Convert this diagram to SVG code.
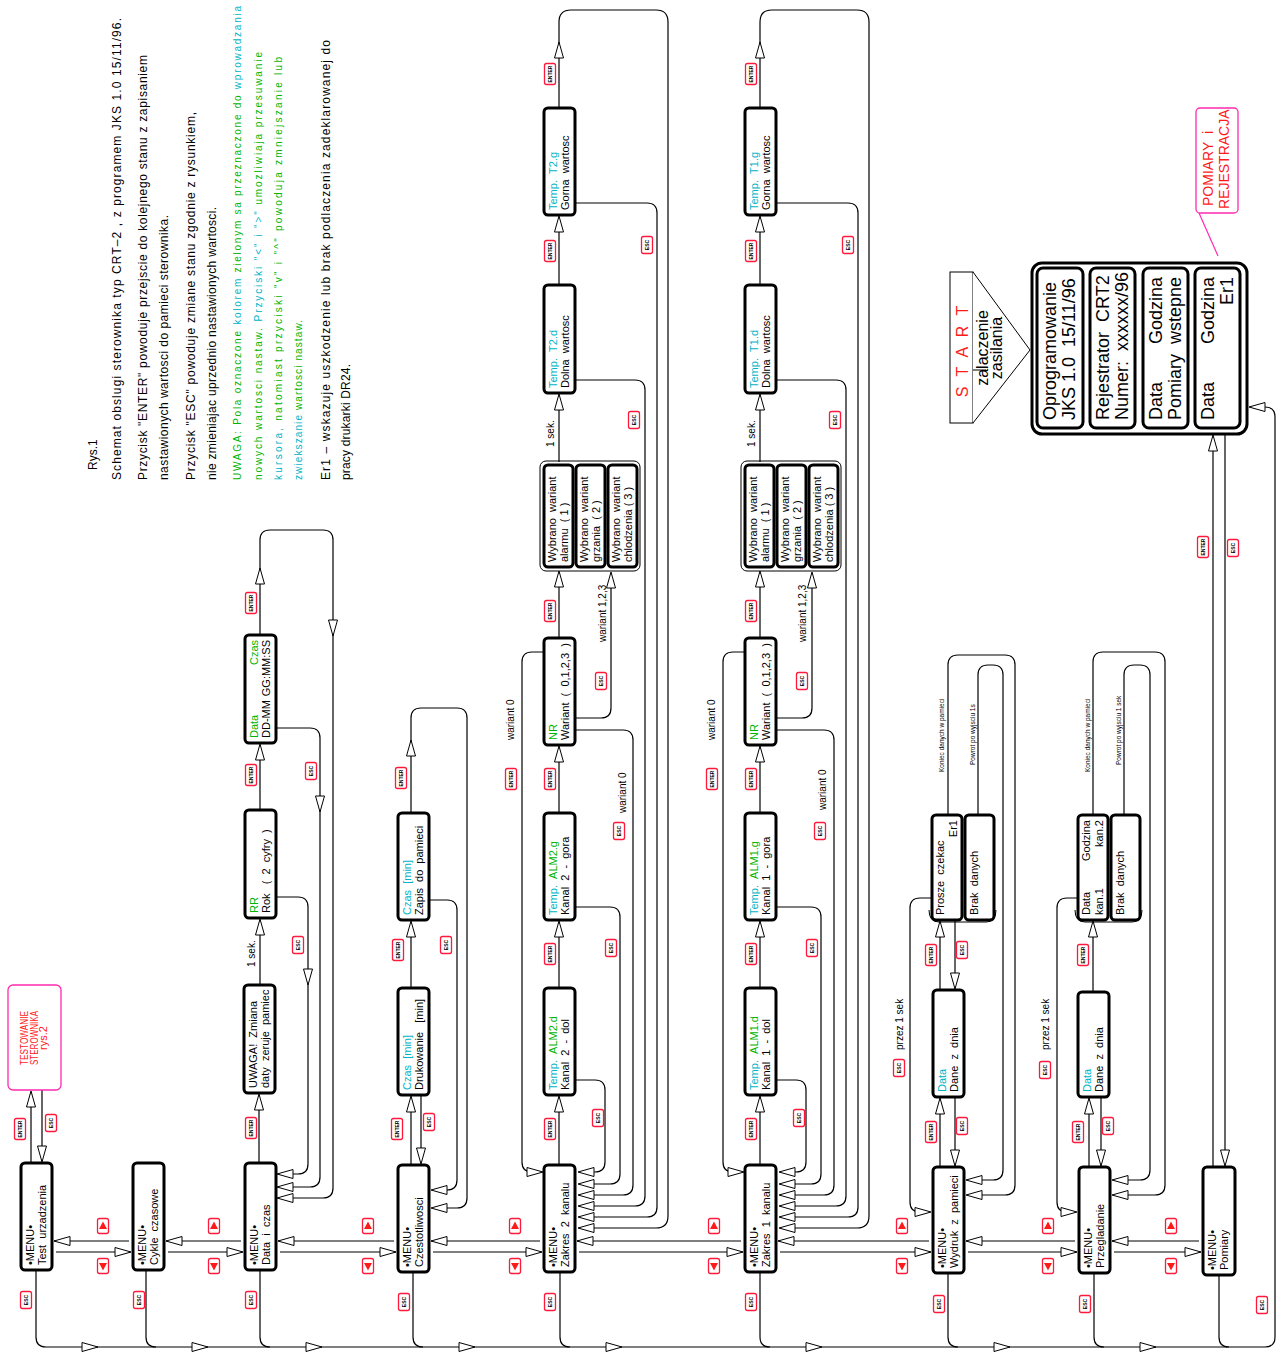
<svg xmlns="http://www.w3.org/2000/svg" xmlns:xlink="http://www.w3.org/1999/xlink" width="1287" height="1353" viewBox="0 0 1287 1353">
<style>
.n{fill:#fff;stroke:#000;stroke-width:3}
.nt{fill:none;stroke:#000;stroke-width:1}
.pk{fill:#fff;stroke:#ff2ab0;stroke-width:1.3}
.c{fill:none;stroke:#000;stroke-width:1.2}
.ah{fill:#fff;stroke:#000;stroke-width:1}
.lb{fill:#fff;stroke:#ff1a3c;stroke-width:1.3}
.lt{font-family:'Liberation Sans',Arial,sans-serif;font-size:5px;font-weight:bold;text-anchor:middle;fill:#000}
.tri{fill:#ff1a1a}
.t{font-family:'Liberation Sans',Arial,sans-serif;font-size:11px;fill:#000}
.s{font-family:'Liberation Sans',Arial,sans-serif;font-size:10px;fill:#000}
.xs{font-family:'Liberation Sans',Arial,sans-serif;font-size:6.5px;fill:#000}
.ins{font-family:'Liberation Sans',Arial,sans-serif;font-size:12px;fill:#000}
.big{font-family:'Liberation Sans',Arial,sans-serif;font-size:18px;fill:#000}
.e{text-anchor:end}
.m{text-anchor:middle}
.gr{fill:#00b400}
.cy{fill:#00b4c8}
.red{fill:#ff1a1a}
</style>
<defs>
<path id="ah" class="ah" d="M0,0L-16,-4.5L-16,4.5Z"/>
</defs>

<!-- instructions -->
<g id="notes">
<text class="ins" transform="translate(97,470) rotate(-90)">Rys.1</text>
<text class="ins" transform="translate(121,480) rotate(-90)" textLength="462" lengthAdjust="spacing">Schemat obslugi sterownika typ CRT–2 , z programem JKS 1.0 15/11/96.</text>
<text class="ins" transform="translate(147,480) rotate(-90)" textLength="425" lengthAdjust="spacing">Przycisk "ENTER" powoduje przejscie do kolejnego stanu z zapisaniem</text>
<text class="ins" transform="translate(168,480) rotate(-90)" textLength="265" lengthAdjust="spacing">nastawionych wartosci do pamieci sterownika.</text>
<text class="ins" transform="translate(195,480) rotate(-90)" textLength="368" lengthAdjust="spacing">Przycisk "ESC" powoduje zmiane stanu zgodnie z rysunkiem,</text>
<text class="ins" transform="translate(216,480) rotate(-90)" textLength="273" lengthAdjust="spacing">nie zmieniajac uprzednio nastawionych wartosci.</text>
<text class="s" transform="translate(241,480) rotate(-90)" textLength="474" lengthAdjust="spacing"><tspan class="gr">UWAGA: Pola oznaczone </tspan><tspan class="cy">kolorem</tspan><tspan class="gr"> zielonym sa przeznaczone do </tspan><tspan class="cy">wprowadzania</tspan></text>
<text class="s" transform="translate(262,480) rotate(-90)" textLength="428" lengthAdjust="spacing"><tspan class="gr">nowych wartosci nastaw.   </tspan><tspan class="cy">Przyciski "&lt;" i "&gt;"</tspan><tspan class="gr"> umozliwiaja przesuwanie</tspan></text>
<text class="s" transform="translate(282,480) rotate(-90)" textLength="423" lengthAdjust="spacing"><tspan class="cy">kursora,</tspan><tspan class="gr"> natomiast przyciski "v" i "^" powoduja zmniejszanie lub</tspan></text>
<text class="s" transform="translate(302,480) rotate(-90)" textLength="160" lengthAdjust="spacing"><tspan class="cy">zwiekszanie</tspan><tspan class="gr"> wartosci nastaw.</tspan></text>
<text class="ins" transform="translate(330,480) rotate(-90)" textLength="440" lengthAdjust="spacing">Er1 –   wskazuje uszkodzenie lub brak podlaczenia zadeklarowanej do</text>
<text class="ins" transform="translate(350,480) rotate(-90)" textLength="116" lengthAdjust="spacing">pracy drukarki DR24.</text>
</g>

<!-- connectors -->
<g id="connectors" class="c">
<path d="M31,1163V1092"/><path d="M42,1090V1161"/>
<path d="M129,1241H54"/><path d="M56,1252H131"/>
<path d="M241,1241H166"/><path d="M168,1252H243"/>
<path d="M394,1241H278"/><path d="M280,1252H396"/>
<path d="M540,1241H431"/><path d="M433,1252H542"/>
<path d="M741,1241H577"/><path d="M579,1252H743"/>
<path d="M929,1241H778"/><path d="M780,1252H931"/>
<path d="M1075,1241H966"/><path d="M968,1252H1077"/>
<path d="M1199,1241H1112"/><path d="M1114,1252H1201"/>
<path d="M36,1270V1337q0,10 10,10H1265q10,0 10,-10V417q0,-10 -10,-10H1250"/>
<path d="M146,1270V1337q0,10 10,10"/>
<path d="M260,1270V1337q0,10 10,10"/>
<path d="M413,1272V1337q0,10 10,10"/>
<path d="M560,1272V1337q0,10 10,10"/>
<path d="M760,1272V1337q0,10 10,10"/>
<path d="M948,1273V1337q0,10 10,10"/>
<path d="M1094,1273V1337q0,10 10,10"/>
<path d="M1219,1275V1337q0,10 10,10"/>
<path d="M259,1163V1095"/>
<path d="M260,985V920"/>
<path d="M260,810V745"/>
<path d="M260,635V540q0,-10 10,-10H323q10,0 10,10V1188q0,10 -10,10H279"/>
<path d="M275,897H298q10,0 10,10V1164q0,10 -10,10H279"/>
<path d="M275,728H310q10,0 10,10V1177q0,10 -10,10H279"/>
<path d="M411,1165V1097"/>
<path d="M421,1095V1163"/>
<path d="M411,988V922"/>
<path d="M411,813V718q0,-10 10,-10H457q10,0 10,10V1198q0,10 -10,10H433"/>
<path d="M429,900H447q10,0 10,10V1180q0,10 -10,10H433"/>
<path d="M559,1165V1097"/><path d="M559,988V922"/><path d="M559,813V747"/><path d="M559,638V572"/><path d="M559,462V395"/><path d="M559,285V217"/>
<path d="M559,108V22q0,-12 12,-12H656q12,0 12,12V1216q0,12 -12,12H580"/>
<path d="M575,203H647q10,0 10,10V1207q0,10 -10,10H580"/>
<path d="M575,380H635q10,0 10,10V1196q0,10 -10,10H580"/>
<path d="M575,730H623q10,0 10,10V1185q0,10 -10,10H580"/>
<path d="M575,718H601q10,0 10,-10V573"/>
<path d="M575,907H610q10,0 10,10V1174q0,10 -10,10H580"/>
<path d="M575,1080H595q10,0 10,10V1162q0,10 -10,10H580"/>
<path d="M544,652H532q-10,0 -10,10V1162q0,10 10,10H541"/>
<path d="M760,1165V1097"/><path d="M760,988V922"/><path d="M760,813V747"/><path d="M760,638V572"/><path d="M760,462V395"/><path d="M760,285V217"/>
<path d="M760,108V22q0,-12 12,-12H857q12,0 12,12V1216q0,12 -12,12H781"/>
<path d="M776,203H848q10,0 10,10V1207q0,10 -10,10H781"/>
<path d="M776,380H836q10,0 10,10V1196q0,10 -10,10H781"/>
<path d="M776,730H824q10,0 10,10V1185q0,10 -10,10H781"/>
<path d="M776,718H802q10,0 10,-10V573"/>
<path d="M776,907H811q10,0 10,10V1174q0,10 -10,10H781"/>
<path d="M776,1080H796q10,0 10,10V1162q0,10 -10,10H781"/>
<path d="M745,652H733q-10,0 -10,10V1162q0,10 10,10H742"/>
<path d="M940,1167V1099"/><path d="M955,1097V1165"/>
<path d="M940,990V922"/><path d="M955,920V988"/>
<path d="M932,898H920q-10,0 -10,10V1202q0,10 10,10H929"/>
<path d="M948,815V665q0,-10 10,-10H1005q10,0 10,10V1185q0,10 -10,10H968"/>
<path d="M978,815V675q0,-10 10,-10H993q10,0 10,10V1170q0,10 -10,10H968"/>
<path d="M1089,1167V1099"/><path d="M1101,1097V1165"/>
<path d="M1093,992V922"/>
<path d="M1078,898H1067q-10,0 -10,10V1202q0,10 10,10H1075"/>
<path d="M1093,815V662q0,-10 10,-10H1155q10,0 10,10V1185q0,10 -10,10H1114"/>
<path d="M1124,815V675q0,-10 10,-10H1140q10,0 10,10V1170q0,10 -10,10H1114"/>
<path d="M1213,1167V437"/><path d="M1225,434V1164"/>
<path d="M1199,213L1218,256" style="stroke:#ff2ab0"/>

<use href="#ah" transform="translate(31,1091) rotate(-90)"/>
<use href="#ah" transform="translate(42,1162) rotate(90)"/>
<use href="#ah" transform="translate(54,1241) rotate(180)"/><use href="#ah" transform="translate(131,1252)"/>
<use href="#ah" transform="translate(166,1241) rotate(180)"/><use href="#ah" transform="translate(243,1252)"/>
<use href="#ah" transform="translate(278,1241) rotate(180)"/><use href="#ah" transform="translate(396,1252)"/>
<use href="#ah" transform="translate(431,1241) rotate(180)"/><use href="#ah" transform="translate(542,1252)"/>
<use href="#ah" transform="translate(577,1241) rotate(180)"/><use href="#ah" transform="translate(743,1252)"/>
<use href="#ah" transform="translate(778,1241) rotate(180)"/><use href="#ah" transform="translate(931,1252)"/>
<use href="#ah" transform="translate(966,1241) rotate(180)"/><use href="#ah" transform="translate(1077,1252)"/>
<use href="#ah" transform="translate(1112,1241) rotate(180)"/><use href="#ah" transform="translate(1201,1252)"/>
<use href="#ah" transform="translate(98,1347)"/><use href="#ah" transform="translate(208,1347)"/><use href="#ah" transform="translate(322,1347)"/><use href="#ah" transform="translate(475,1347)"/><use href="#ah" transform="translate(622,1347)"/><use href="#ah" transform="translate(822,1347)"/><use href="#ah" transform="translate(1010,1347)"/><use href="#ah" transform="translate(1156,1347)"/>
<use href="#ah" transform="translate(1249,407) rotate(180)"/>
<use href="#ah" transform="translate(259,1094) rotate(-90)"/>
<use href="#ah" transform="translate(260,919) rotate(-90)"/>
<use href="#ah" transform="translate(260,744) rotate(-90)"/>
<use href="#ah" transform="translate(260,568) rotate(-90)"/>
<use href="#ah" transform="translate(333,636) rotate(90)"/>
<use href="#ah" transform="translate(308,985) rotate(90)"/>
<use href="#ah" transform="translate(320,812) rotate(90)"/>
<use href="#ah" transform="translate(277,1174) rotate(180)"/><use href="#ah" transform="translate(277,1187) rotate(180)"/><use href="#ah" transform="translate(277,1198) rotate(180)"/>
<use href="#ah" transform="translate(411,1096) rotate(-90)"/>
<use href="#ah" transform="translate(421,1164) rotate(90)"/>
<use href="#ah" transform="translate(411,921) rotate(-90)"/>
<use href="#ah" transform="translate(411,740) rotate(-90)"/>
<use href="#ah" transform="translate(431,1190) rotate(180)"/><use href="#ah" transform="translate(431,1208) rotate(180)"/>
<use href="#ah" transform="translate(559,1096) rotate(-90)"/><use href="#ah" transform="translate(559,921) rotate(-90)"/><use href="#ah" transform="translate(559,746) rotate(-90)"/><use href="#ah" transform="translate(559,571) rotate(-90)"/><use href="#ah" transform="translate(559,394) rotate(-90)"/><use href="#ah" transform="translate(559,216) rotate(-90)"/><use href="#ah" transform="translate(559,42) rotate(-90)"/>
<use href="#ah" transform="translate(611,572) rotate(-90)"/>
<use href="#ah" transform="translate(578,1172) rotate(180)"/><use href="#ah" transform="translate(578,1184) rotate(180)"/><use href="#ah" transform="translate(578,1195) rotate(180)"/><use href="#ah" transform="translate(578,1206) rotate(180)"/><use href="#ah" transform="translate(578,1217) rotate(180)"/><use href="#ah" transform="translate(578,1228) rotate(180)"/>
<use href="#ah" transform="translate(543,1172)"/>
<use href="#ah" transform="translate(760,1096) rotate(-90)"/><use href="#ah" transform="translate(760,921) rotate(-90)"/><use href="#ah" transform="translate(760,746) rotate(-90)"/><use href="#ah" transform="translate(760,571) rotate(-90)"/><use href="#ah" transform="translate(760,394) rotate(-90)"/><use href="#ah" transform="translate(760,216) rotate(-90)"/><use href="#ah" transform="translate(760,42) rotate(-90)"/>
<use href="#ah" transform="translate(812,572) rotate(-90)"/>
<use href="#ah" transform="translate(779,1172) rotate(180)"/><use href="#ah" transform="translate(779,1184) rotate(180)"/><use href="#ah" transform="translate(779,1195) rotate(180)"/><use href="#ah" transform="translate(779,1206) rotate(180)"/><use href="#ah" transform="translate(779,1217) rotate(180)"/><use href="#ah" transform="translate(779,1228) rotate(180)"/>
<use href="#ah" transform="translate(744,1172)"/>
<use href="#ah" transform="translate(940,1098) rotate(-90)"/><use href="#ah" transform="translate(955,1166) rotate(90)"/>
<use href="#ah" transform="translate(940,921) rotate(-90)"/><use href="#ah" transform="translate(955,989) rotate(90)"/>
<use href="#ah" transform="translate(931,1212)"/>
<use href="#ah" transform="translate(966,1180) rotate(180)"/><use href="#ah" transform="translate(966,1195) rotate(180)"/>
<use href="#ah" transform="translate(1089,1098) rotate(-90)"/><use href="#ah" transform="translate(1101,1166) rotate(90)"/>
<use href="#ah" transform="translate(1093,921) rotate(-90)"/>
<use href="#ah" transform="translate(1077,1212)"/>
<use href="#ah" transform="translate(1112,1180) rotate(180)"/><use href="#ah" transform="translate(1112,1195) rotate(180)"/>
<use href="#ah" transform="translate(1213,435) rotate(-90)"/><use href="#ah" transform="translate(1225,1166) rotate(90)"/>
</g>

<g id="labels">
<g transform="translate(20,1129)"><rect class="lb" x="-5.5" y="-10.5" width="11" height="21" rx="2"/><text class="lt" transform="rotate(-90)" y="2">ENTER</text></g>
<g transform="translate(251,1128)"><rect class="lb" x="-5.5" y="-10.5" width="11" height="21" rx="2"/><text class="lt" transform="rotate(-90)" y="2">ENTER</text></g>
<g transform="translate(251,775)"><rect class="lb" x="-5.5" y="-10.5" width="11" height="21" rx="2"/><text class="lt" transform="rotate(-90)" y="2">ENTER</text></g>
<g transform="translate(251,603)"><rect class="lb" x="-5.5" y="-10.5" width="11" height="21" rx="2"/><text class="lt" transform="rotate(-90)" y="2">ENTER</text></g>
<g transform="translate(397,1129)"><rect class="lb" x="-5.5" y="-10.5" width="11" height="21" rx="2"/><text class="lt" transform="rotate(-90)" y="2">ENTER</text></g>
<g transform="translate(398,950)"><rect class="lb" x="-5.5" y="-10.5" width="11" height="21" rx="2"/><text class="lt" transform="rotate(-90)" y="2">ENTER</text></g>
<g transform="translate(401,778)"><rect class="lb" x="-5.5" y="-10.5" width="11" height="21" rx="2"/><text class="lt" transform="rotate(-90)" y="2">ENTER</text></g>
<g transform="translate(550,1129)"><rect class="lb" x="-5.5" y="-10.5" width="11" height="21" rx="2"/><text class="lt" transform="rotate(-90)" y="2">ENTER</text></g>
<g transform="translate(550,954)"><rect class="lb" x="-5.5" y="-10.5" width="11" height="21" rx="2"/><text class="lt" transform="rotate(-90)" y="2">ENTER</text></g>
<g transform="translate(550,779)"><rect class="lb" x="-5.5" y="-10.5" width="11" height="21" rx="2"/><text class="lt" transform="rotate(-90)" y="2">ENTER</text></g>
<g transform="translate(550,611)"><rect class="lb" x="-5.5" y="-10.5" width="11" height="21" rx="2"/><text class="lt" transform="rotate(-90)" y="2">ENTER</text></g>
<g transform="translate(550,251)"><rect class="lb" x="-5.5" y="-10.5" width="11" height="21" rx="2"/><text class="lt" transform="rotate(-90)" y="2">ENTER</text></g>
<g transform="translate(550,74)"><rect class="lb" x="-5.5" y="-10.5" width="11" height="21" rx="2"/><text class="lt" transform="rotate(-90)" y="2">ENTER</text></g>
<g transform="translate(511,779)"><rect class="lb" x="-5.5" y="-10.5" width="11" height="21" rx="2"/><text class="lt" transform="rotate(-90)" y="2">ENTER</text></g>
<g transform="translate(751,1129)"><rect class="lb" x="-5.5" y="-10.5" width="11" height="21" rx="2"/><text class="lt" transform="rotate(-90)" y="2">ENTER</text></g>
<g transform="translate(751,954)"><rect class="lb" x="-5.5" y="-10.5" width="11" height="21" rx="2"/><text class="lt" transform="rotate(-90)" y="2">ENTER</text></g>
<g transform="translate(751,779)"><rect class="lb" x="-5.5" y="-10.5" width="11" height="21" rx="2"/><text class="lt" transform="rotate(-90)" y="2">ENTER</text></g>
<g transform="translate(751,611)"><rect class="lb" x="-5.5" y="-10.5" width="11" height="21" rx="2"/><text class="lt" transform="rotate(-90)" y="2">ENTER</text></g>
<g transform="translate(751,251)"><rect class="lb" x="-5.5" y="-10.5" width="11" height="21" rx="2"/><text class="lt" transform="rotate(-90)" y="2">ENTER</text></g>
<g transform="translate(751,74)"><rect class="lb" x="-5.5" y="-10.5" width="11" height="21" rx="2"/><text class="lt" transform="rotate(-90)" y="2">ENTER</text></g>
<g transform="translate(712,779)"><rect class="lb" x="-5.5" y="-10.5" width="11" height="21" rx="2"/><text class="lt" transform="rotate(-90)" y="2">ENTER</text></g>
<g transform="translate(931,1132)"><rect class="lb" x="-5.5" y="-10.5" width="11" height="21" rx="2"/><text class="lt" transform="rotate(-90)" y="2">ENTER</text></g>
<g transform="translate(931,955)"><rect class="lb" x="-5.5" y="-10.5" width="11" height="21" rx="2"/><text class="lt" transform="rotate(-90)" y="2">ENTER</text></g>
<g transform="translate(1078,1132)"><rect class="lb" x="-5.5" y="-10.5" width="11" height="21" rx="2"/><text class="lt" transform="rotate(-90)" y="2">ENTER</text></g>
<g transform="translate(1083,955)"><rect class="lb" x="-5.5" y="-10.5" width="11" height="21" rx="2"/><text class="lt" transform="rotate(-90)" y="2">ENTER</text></g>
<g transform="translate(1203,547)"><rect class="lb" x="-5.5" y="-10.5" width="11" height="21" rx="2"/><text class="lt" transform="rotate(-90)" y="2">ENTER</text></g>
<g transform="translate(51,1123)"><rect class="lb" x="-5.5" y="-8.5" width="11" height="17" rx="2"/><text class="lt" transform="rotate(-90)" y="2">ESC</text></g>
<g transform="translate(26,1300)"><rect class="lb" x="-5.5" y="-8.5" width="11" height="17" rx="2"/><text class="lt" transform="rotate(-90)" y="2">ESC</text></g>
<g transform="translate(139,1300)"><rect class="lb" x="-5.5" y="-8.5" width="11" height="17" rx="2"/><text class="lt" transform="rotate(-90)" y="2">ESC</text></g>
<g transform="translate(251,1300)"><rect class="lb" x="-5.5" y="-8.5" width="11" height="17" rx="2"/><text class="lt" transform="rotate(-90)" y="2">ESC</text></g>
<g transform="translate(404,1302)"><rect class="lb" x="-5.5" y="-8.5" width="11" height="17" rx="2"/><text class="lt" transform="rotate(-90)" y="2">ESC</text></g>
<g transform="translate(550,1302)"><rect class="lb" x="-5.5" y="-8.5" width="11" height="17" rx="2"/><text class="lt" transform="rotate(-90)" y="2">ESC</text></g>
<g transform="translate(751,1302)"><rect class="lb" x="-5.5" y="-8.5" width="11" height="17" rx="2"/><text class="lt" transform="rotate(-90)" y="2">ESC</text></g>
<g transform="translate(939,1304)"><rect class="lb" x="-5.5" y="-8.5" width="11" height="17" rx="2"/><text class="lt" transform="rotate(-90)" y="2">ESC</text></g>
<g transform="translate(1085,1304)"><rect class="lb" x="-5.5" y="-8.5" width="11" height="17" rx="2"/><text class="lt" transform="rotate(-90)" y="2">ESC</text></g>
<g transform="translate(1262,1305)"><rect class="lb" x="-5.5" y="-8.5" width="11" height="17" rx="2"/><text class="lt" transform="rotate(-90)" y="2">ESC</text></g>
<g transform="translate(298,945)"><rect class="lb" x="-5.5" y="-8.5" width="11" height="17" rx="2"/><text class="lt" transform="rotate(-90)" y="2">ESC</text></g>
<g transform="translate(311,771)"><rect class="lb" x="-5.5" y="-8.5" width="11" height="17" rx="2"/><text class="lt" transform="rotate(-90)" y="2">ESC</text></g>
<g transform="translate(429,1122)"><rect class="lb" x="-5.5" y="-8.5" width="11" height="17" rx="2"/><text class="lt" transform="rotate(-90)" y="2">ESC</text></g>
<g transform="translate(446,945)"><rect class="lb" x="-5.5" y="-8.5" width="11" height="17" rx="2"/><text class="lt" transform="rotate(-90)" y="2">ESC</text></g>
<g transform="translate(598,1118)"><rect class="lb" x="-5.5" y="-8.5" width="11" height="17" rx="2"/><text class="lt" transform="rotate(-90)" y="2">ESC</text></g>
<g transform="translate(611,948)"><rect class="lb" x="-5.5" y="-8.5" width="11" height="17" rx="2"/><text class="lt" transform="rotate(-90)" y="2">ESC</text></g>
<g transform="translate(619,831)"><rect class="lb" x="-5.5" y="-8.5" width="11" height="17" rx="2"/><text class="lt" transform="rotate(-90)" y="2">ESC</text></g>
<g transform="translate(601,681)"><rect class="lb" x="-5.5" y="-8.5" width="11" height="17" rx="2"/><text class="lt" transform="rotate(-90)" y="2">ESC</text></g>
<g transform="translate(634,420)"><rect class="lb" x="-5.5" y="-8.5" width="11" height="17" rx="2"/><text class="lt" transform="rotate(-90)" y="2">ESC</text></g>
<g transform="translate(647,245)"><rect class="lb" x="-5.5" y="-8.5" width="11" height="17" rx="2"/><text class="lt" transform="rotate(-90)" y="2">ESC</text></g>
<g transform="translate(799,1118)"><rect class="lb" x="-5.5" y="-8.5" width="11" height="17" rx="2"/><text class="lt" transform="rotate(-90)" y="2">ESC</text></g>
<g transform="translate(812,948)"><rect class="lb" x="-5.5" y="-8.5" width="11" height="17" rx="2"/><text class="lt" transform="rotate(-90)" y="2">ESC</text></g>
<g transform="translate(820,831)"><rect class="lb" x="-5.5" y="-8.5" width="11" height="17" rx="2"/><text class="lt" transform="rotate(-90)" y="2">ESC</text></g>
<g transform="translate(802,681)"><rect class="lb" x="-5.5" y="-8.5" width="11" height="17" rx="2"/><text class="lt" transform="rotate(-90)" y="2">ESC</text></g>
<g transform="translate(835,420)"><rect class="lb" x="-5.5" y="-8.5" width="11" height="17" rx="2"/><text class="lt" transform="rotate(-90)" y="2">ESC</text></g>
<g transform="translate(848,245)"><rect class="lb" x="-5.5" y="-8.5" width="11" height="17" rx="2"/><text class="lt" transform="rotate(-90)" y="2">ESC</text></g>
<g transform="translate(962,1126)"><rect class="lb" x="-5.5" y="-8.5" width="11" height="17" rx="2"/><text class="lt" transform="rotate(-90)" y="2">ESC</text></g>
<g transform="translate(962,950)"><rect class="lb" x="-5.5" y="-8.5" width="11" height="17" rx="2"/><text class="lt" transform="rotate(-90)" y="2">ESC</text></g>
<g transform="translate(899,1068)"><rect class="lb" x="-5.5" y="-8.5" width="11" height="17" rx="2"/><text class="lt" transform="rotate(-90)" y="2">ESC</text></g>
<g transform="translate(1108,1126)"><rect class="lb" x="-5.5" y="-8.5" width="11" height="17" rx="2"/><text class="lt" transform="rotate(-90)" y="2">ESC</text></g>
<g transform="translate(1045,1070)"><rect class="lb" x="-5.5" y="-8.5" width="11" height="17" rx="2"/><text class="lt" transform="rotate(-90)" y="2">ESC</text></g>
<g transform="translate(1233,548)"><rect class="lb" x="-5.5" y="-8.5" width="11" height="17" rx="2"/><text class="lt" transform="rotate(-90)" y="2">ESC</text></g>
<g transform="translate(103,1226)"><rect class="lb" x="-5.5" y="-7.5" width="11" height="15" rx="2"/><path class="tri" d="M0,-4.5L4,3L-4,3Z"/></g>
<g transform="translate(103,1266)"><rect class="lb" x="-5.5" y="-7.5" width="11" height="15" rx="2"/><path class="tri" d="M0,4.5L4,-3L-4,-3Z"/></g>
<g transform="translate(214,1226)"><rect class="lb" x="-5.5" y="-7.5" width="11" height="15" rx="2"/><path class="tri" d="M0,-4.5L4,3L-4,3Z"/></g>
<g transform="translate(214,1266)"><rect class="lb" x="-5.5" y="-7.5" width="11" height="15" rx="2"/><path class="tri" d="M0,4.5L4,-3L-4,-3Z"/></g>
<g transform="translate(368,1226)"><rect class="lb" x="-5.5" y="-7.5" width="11" height="15" rx="2"/><path class="tri" d="M0,-4.5L4,3L-4,3Z"/></g>
<g transform="translate(368,1266)"><rect class="lb" x="-5.5" y="-7.5" width="11" height="15" rx="2"/><path class="tri" d="M0,4.5L4,-3L-4,-3Z"/></g>
<g transform="translate(515,1226)"><rect class="lb" x="-5.5" y="-7.5" width="11" height="15" rx="2"/><path class="tri" d="M0,-4.5L4,3L-4,3Z"/></g>
<g transform="translate(515,1266)"><rect class="lb" x="-5.5" y="-7.5" width="11" height="15" rx="2"/><path class="tri" d="M0,4.5L4,-3L-4,-3Z"/></g>
<g transform="translate(714,1226)"><rect class="lb" x="-5.5" y="-7.5" width="11" height="15" rx="2"/><path class="tri" d="M0,-4.5L4,3L-4,3Z"/></g>
<g transform="translate(714,1266)"><rect class="lb" x="-5.5" y="-7.5" width="11" height="15" rx="2"/><path class="tri" d="M0,4.5L4,-3L-4,-3Z"/></g>
<g transform="translate(902,1226)"><rect class="lb" x="-5.5" y="-7.5" width="11" height="15" rx="2"/><path class="tri" d="M0,-4.5L4,3L-4,3Z"/></g>
<g transform="translate(902,1266)"><rect class="lb" x="-5.5" y="-7.5" width="11" height="15" rx="2"/><path class="tri" d="M0,4.5L4,-3L-4,-3Z"/></g>
<g transform="translate(1048,1226)"><rect class="lb" x="-5.5" y="-7.5" width="11" height="15" rx="2"/><path class="tri" d="M0,-4.5L4,3L-4,3Z"/></g>
<g transform="translate(1048,1266)"><rect class="lb" x="-5.5" y="-7.5" width="11" height="15" rx="2"/><path class="tri" d="M0,4.5L4,-3L-4,-3Z"/></g>
<g transform="translate(1171,1226)"><rect class="lb" x="-5.5" y="-7.5" width="11" height="15" rx="2"/><path class="tri" d="M0,-4.5L4,3L-4,3Z"/></g>
<g transform="translate(1171,1266)"><rect class="lb" x="-5.5" y="-7.5" width="11" height="15" rx="2"/><path class="tri" d="M0,4.5L4,-3L-4,-3Z"/></g>
<text class="s" transform="translate(255,967) rotate(-90)">1 sek.</text>
<text class="s" transform="translate(554,447) rotate(-90)">1 sek.</text>
<text class="s" transform="translate(755,447) rotate(-90)">1 sek.</text>
<text class="s" transform="translate(514,740) rotate(-90)">wariant  0</text>
<text class="s" transform="translate(715,740) rotate(-90)">wariant  0</text>
<text class="s" transform="translate(626,813) rotate(-90)">wariant  0</text>
<text class="s" transform="translate(826,810) rotate(-90)">wariant  0</text>
<text class="s" transform="translate(606,642) rotate(-90)">wariant  1,2,3</text>
<text class="s" transform="translate(806,642) rotate(-90)">wariant  1,2,3</text>
<text class="xs" transform="translate(944,772) rotate(-90)">Koniec danych w pamieci</text>
<text class="xs" transform="translate(975,765) rotate(-90)">Powrot po wyjsciu 1s</text>
<text class="xs" transform="translate(1090,772) rotate(-90)">Koniec danych w pamieci</text>
<text class="xs" transform="translate(1121,765) rotate(-90)">Powrot po wyjsciu 1 sek</text>
<text class="s" transform="translate(903,1050) rotate(-90)">przez  1  sek</text>
<text class="s" transform="translate(1049,1050) rotate(-90)">przez  1  sek</text>
</g>

<g id="n-testowanie"><rect class="pk" x="8" y="985" width="53" height="105" rx="5"/>
<text class="t red m" transform="translate(28,1038) rotate(-90)" textLength="54" lengthAdjust="spacingAndGlyphs">TESTOWANIE</text>
<text class="t red m" transform="translate(38,1038) rotate(-90)" textLength="54" lengthAdjust="spacingAndGlyphs">STEROWNIKA</text>
<text class="t red m" transform="translate(47,1038) rotate(-90)">rys.2</text></g>

<g id="n-test"><rect class="n" x="21" y="1163" width="31" height="107" rx="4"/>
<text class="t" transform="translate(34,1265) rotate(-90)">•MENU•</text>
<text class="t" transform="translate(46,1265) rotate(-90)">Test&#160;&#160;urzadzenia</text></g>

<g id="n-cykle"><rect class="n" x="133" y="1163" width="31" height="107" rx="4"/>
<text class="t" transform="translate(146,1265) rotate(-90)">•MENU•</text>
<text class="t" transform="translate(158,1265) rotate(-90)">Cykle&#160;&#160;czasowe</text></g>

<g id="n-data"><rect class="n" x="245" y="1163" width="31" height="107" rx="4"/>
<text class="t" transform="translate(258,1265) rotate(-90)">•MENU•</text>
<text class="t" transform="translate(270,1265) rotate(-90)">Data&#160;&#160;i&#160;&#160;czas</text></g>

<g id="n-uwaga"><rect class="n" x="244" y="985" width="31" height="108" rx="4"/>
<text class="t" transform="translate(257,1088) rotate(-90)">UWAGA!&#160;&#160;Zmiana</text>
<text class="t" transform="translate(269,1088) rotate(-90)">daty&#160;&#160;zeruje&#160;&#160;pamiec</text></g>

<g id="n-rr"><rect class="n" x="245" y="810" width="31" height="108" rx="4"/>
<text class="t gr" transform="translate(258,913) rotate(-90)">RR</text>
<text class="t" transform="translate(270,913) rotate(-90)">Rok&#160;&#160;&#160;(&#160;&#160;2&#160;&#160;cyfry&#160;&#160;)</text></g>

<g id="n-dataczas"><rect class="n" x="245" y="635" width="31" height="108" rx="4"/>
<text class="t gr" transform="translate(258,738) rotate(-90)">Data</text>
<text class="t gr e" transform="translate(258,640) rotate(-90)">Czas</text>
<text class="t" transform="translate(270,738) rotate(-90)">DD-MM</text>
<text class="t e" transform="translate(270,640) rotate(-90)">GG:MM:SS</text></g>

<g id="n-czest"><rect class="n" x="398" y="1165" width="31" height="107" rx="4"/>
<text class="t" transform="translate(411,1267) rotate(-90)">•MENU•</text>
<text class="t" transform="translate(423,1267) rotate(-90)">Czestotliwosci</text></g>

<g id="n-druk"><rect class="n" x="398" y="988" width="31" height="107" rx="4"/>
<text class="t cy" transform="translate(411,1090) rotate(-90)">Czas&#160;&#160;[min]</text>
<text class="t" transform="translate(423,1090) rotate(-90)">Drukowanie&#160;&#160;&#160;[min]</text></g>

<g id="n-zapis"><rect class="n" x="398" y="813" width="31" height="107" rx="4"/>
<text class="t cy" transform="translate(411,915) rotate(-90)">Czas&#160;&#160;[min]</text>
<text class="t" transform="translate(423,915) rotate(-90)">Zapis&#160;&#160;do&#160;&#160;pamieci</text></g>

<g id="n-zakres2"><rect class="n" x="544" y="1165" width="31" height="107" rx="4"/>
<text class="t" transform="translate(557,1267) rotate(-90)">•MENU•</text>
<text class="t" transform="translate(569,1267) rotate(-90)">Zakres&#160;&#160;2&#160;&#160;kanalu</text></g>
<g id="n-alm2d"><rect class="n" x="544" y="988" width="31" height="107" rx="4"/>
<text class="t" transform="translate(557,1090) rotate(-90)"><tspan class="cy">Temp.&#160;&#160;</tspan><tspan class="gr">ALM2.d</tspan></text>
<text class="t" transform="translate(569,1090) rotate(-90)">Kanal&#160;&#160;2&#160;&#160;-&#160;&#160;dol</text></g>
<g id="n-alm2g"><rect class="n" x="544" y="813" width="31" height="107" rx="4"/>
<text class="t" transform="translate(557,915) rotate(-90)"><tspan class="cy">Temp.&#160;&#160;</tspan><tspan class="gr">ALM2.g</tspan></text>
<text class="t" transform="translate(569,915) rotate(-90)">Kanal&#160;&#160;2&#160;&#160;-&#160;&#160;gora</text></g>
<g id="n-nr2"><rect class="n" x="544" y="638" width="31" height="107" rx="4"/>
<text class="t gr" transform="translate(557,740) rotate(-90)">NR</text>
<text class="t" transform="translate(569,740) rotate(-90)">Wariant&#160;&#160;(&#160;&#160;0,1,2,3&#160;&#160;)</text></g>
<g id="n-wyb2"><rect class="nt" x="540" y="461" width="100" height="110" rx="6"/>
<rect class="n" x="544" y="465" width="29" height="102" rx="4"/>
<rect class="n" x="576" y="465" width="29" height="102" rx="4"/>
<rect class="n" x="608" y="465" width="29" height="102" rx="4"/>
<text class="t" transform="translate(556,562) rotate(-90)">Wybrano&#160;&#160;wariant</text>
<text class="t" transform="translate(568,562) rotate(-90)">alarmu&#160;&#160;(&#160;1&#160;)</text>
<text class="t" transform="translate(588,562) rotate(-90)">Wybrano&#160;&#160;wariant</text>
<text class="t" transform="translate(600,562) rotate(-90)">grzania&#160;&#160;(&#160;2&#160;)</text>
<text class="t" transform="translate(620,562) rotate(-90)">Wybrano&#160;&#160;wariant</text>
<text class="t" transform="translate(632,562) rotate(-90)">chlodzenia&#160;(&#160;3&#160;)</text></g>
<g id="n-t2d"><rect class="n" x="544" y="285" width="31" height="108" rx="4"/>
<text class="t cy" transform="translate(557,388) rotate(-90)">Temp.&#160;&#160;T2.d</text>
<text class="t" transform="translate(569,388) rotate(-90)">Dolna&#160;&#160;wartosc</text></g>
<g id="n-t2g"><rect class="n" x="544" y="108" width="31" height="107" rx="4"/>
<text class="t cy" transform="translate(557,210) rotate(-90)">Temp.&#160;&#160;T2.g</text>
<text class="t" transform="translate(569,210) rotate(-90)">Gorna&#160;&#160;wartosc</text></g>

<g id="n-zakres1"><rect class="n" x="745" y="1165" width="31" height="107" rx="4"/>
<text class="t" transform="translate(758,1267) rotate(-90)">•MENU•</text>
<text class="t" transform="translate(770,1267) rotate(-90)">Zakres&#160;&#160;1&#160;&#160;kanalu</text></g>
<g id="n-alm1d"><rect class="n" x="745" y="988" width="31" height="107" rx="4"/>
<text class="t" transform="translate(758,1090) rotate(-90)"><tspan class="cy">Temp.&#160;&#160;</tspan><tspan class="gr">ALM1.d</tspan></text>
<text class="t" transform="translate(770,1090) rotate(-90)">Kanal&#160;&#160;1&#160;&#160;-&#160;&#160;dol</text></g>
<g id="n-alm1g"><rect class="n" x="745" y="813" width="31" height="107" rx="4"/>
<text class="t" transform="translate(758,915) rotate(-90)"><tspan class="cy">Temp.&#160;&#160;</tspan><tspan class="gr">ALM1.g</tspan></text>
<text class="t" transform="translate(770,915) rotate(-90)">Kanal&#160;&#160;1&#160;&#160;-&#160;&#160;gora</text></g>
<g id="n-nr1"><rect class="n" x="745" y="638" width="31" height="107" rx="4"/>
<text class="t gr" transform="translate(758,740) rotate(-90)">NR</text>
<text class="t" transform="translate(770,740) rotate(-90)">Wariant&#160;&#160;(&#160;&#160;0,1,2,3&#160;&#160;)</text></g>
<g id="n-wyb1"><rect class="nt" x="741" y="461" width="100" height="110" rx="6"/>
<rect class="n" x="745" y="465" width="29" height="102" rx="4"/>
<rect class="n" x="777" y="465" width="29" height="102" rx="4"/>
<rect class="n" x="809" y="465" width="29" height="102" rx="4"/>
<text class="t" transform="translate(757,562) rotate(-90)">Wybrano&#160;&#160;wariant</text>
<text class="t" transform="translate(769,562) rotate(-90)">alarmu&#160;&#160;(&#160;1&#160;)</text>
<text class="t" transform="translate(789,562) rotate(-90)">Wybrano&#160;&#160;wariant</text>
<text class="t" transform="translate(801,562) rotate(-90)">grzania&#160;&#160;(&#160;2&#160;)</text>
<text class="t" transform="translate(821,562) rotate(-90)">Wybrano&#160;&#160;wariant</text>
<text class="t" transform="translate(833,562) rotate(-90)">chlodzenia&#160;(&#160;3&#160;)</text></g>
<g id="n-t1d"><rect class="n" x="745" y="285" width="31" height="108" rx="4"/>
<text class="t cy" transform="translate(758,388) rotate(-90)">Temp.&#160;&#160;T1.d</text>
<text class="t" transform="translate(770,388) rotate(-90)">Dolna&#160;&#160;wartosc</text></g>
<g id="n-t1g"><rect class="n" x="745" y="108" width="31" height="107" rx="4"/>
<text class="t cy" transform="translate(758,210) rotate(-90)">Temp.&#160;&#160;T1.g</text>
<text class="t" transform="translate(770,210) rotate(-90)">Gorna&#160;&#160;wartosc</text></g>

<g id="n-wydruk"><rect class="n" x="933" y="1167" width="31" height="106" rx="4"/>
<text class="t" transform="translate(946,1268) rotate(-90)">•MENU•</text>
<text class="t" transform="translate(958,1268) rotate(-90)">Wydruk&#160;&#160;z&#160;&#160;pamieci</text></g>
<g id="n-wdata"><rect class="n" x="933" y="990" width="31" height="107" rx="4"/>
<text class="t cy" transform="translate(946,1092) rotate(-90)">Data</text>
<text class="t" transform="translate(958,1092) rotate(-90)">Dane&#160;&#160;z&#160;&#160;dnia</text></g>
<g id="n-wgrp"><path class="nt" d="M929,910q0,12 10,12H986q10,0 10,-12"/>
<rect class="n" x="932" y="815" width="30" height="105" rx="4"/>
<rect class="n" x="965" y="815" width="29" height="105" rx="4"/>
<text class="t" transform="translate(944,915) rotate(-90)">Prosze&#160;&#160;czekac</text>
<text class="t e" transform="translate(957,820) rotate(-90)">Er1</text>
<text class="t" transform="translate(978,915) rotate(-90)">Brak&#160;&#160;danych</text></g>

<g id="n-przeg"><rect class="n" x="1079" y="1167" width="31" height="106" rx="4"/>
<text class="t" transform="translate(1092,1268) rotate(-90)">•MENU•</text>
<text class="t" transform="translate(1104,1268) rotate(-90)">Przegladanie</text></g>
<g id="n-pdata"><rect class="n" x="1078" y="992" width="31" height="105" rx="4"/>
<text class="t cy" transform="translate(1091,1092) rotate(-90)">Data</text>
<text class="t" transform="translate(1103,1092) rotate(-90)">Dane&#160;&#160;z&#160;&#160;dnia</text></g>
<g id="n-pgrp"><path class="nt" d="M1075,910q0,12 10,12H1132q10,0 10,-12"/>
<rect class="n" x="1078" y="815" width="30" height="105" rx="4"/>
<rect class="n" x="1111" y="815" width="29" height="105" rx="4"/>
<text class="t" transform="translate(1090,915) rotate(-90)">Data</text>
<text class="t e" transform="translate(1090,820) rotate(-90)">Godzina</text>
<text class="t" transform="translate(1103,915) rotate(-90)">kan.1</text>
<text class="t e" transform="translate(1103,820) rotate(-90)">kan.2</text>
<text class="t" transform="translate(1124,915) rotate(-90)">Brak&#160;&#160;danych</text></g>

<g id="n-pomiary"><rect class="n" x="1203" y="1167" width="32" height="108" rx="4"/>
<text class="t" transform="translate(1216,1270) rotate(-90)">•MENU•</text>
<text class="t" transform="translate(1228,1270) rotate(-90)">Pomiary</text></g>

<g id="n-start">
<rect x="950" y="272" width="23" height="151" fill="#fff" stroke="#000" stroke-width="1"/>
<path d="M973,272L1030,350L973,423" fill="#fff" stroke="#000" stroke-width="1"/>
<path d="M973,370H986" fill="none" stroke="#000" stroke-width="1"/>
<text class="big red m" transform="translate(968,350) rotate(-90)" style="font-size:16px;letter-spacing:3px">S T A R T</text>
<text class="big m" transform="translate(988,348) rotate(-90)" style="font-size:16px">zalaczenie</text>
<text class="big m" transform="translate(1002,348) rotate(-90)" style="font-size:16px">zasilania</text>
</g>

<g id="n-main">
<rect class="n" x="1032" y="263" width="215" height="171" rx="10"/>
<rect class="n" x="1037" y="268" width="46" height="160" rx="6"/>
<rect class="n" x="1090" y="268" width="45" height="160" rx="6"/>
<rect class="n" x="1143" y="268" width="45" height="160" rx="6"/>
<rect class="n" x="1195" y="268" width="45" height="160" rx="6"/>
<text class="big" transform="translate(1056,420) rotate(-90)">Oprogramowanie</text>
<text class="big" transform="translate(1075,420) rotate(-90)">JKS&#160;1.0&#160;&#160;15/11/96</text>
<text class="big" transform="translate(1109,420) rotate(-90)">Rejestrator&#160;&#160;CRT2</text>
<text class="big" transform="translate(1128,420) rotate(-90)">Numer:&#160;&#160;xxxxxx/96</text>
<text class="big" transform="translate(1162,420) rotate(-90)">Data</text>
<text class="big e" transform="translate(1162,277) rotate(-90)">Godzina</text>
<text class="big" transform="translate(1181,420) rotate(-90)">Pomiary&#160;&#160;wstepne</text>
<text class="big" transform="translate(1214,420) rotate(-90)">Data</text>
<text class="big e" transform="translate(1214,277) rotate(-90)">Godzina</text>
<text class="big e" transform="translate(1233,277) rotate(-90)">Er1</text>
</g>

<g id="n-pomiary-rej"><rect class="pk" x="1196" y="108" width="42" height="105" rx="4"/>
<text class="big red" transform="translate(1213,206) rotate(-90)" style="font-size:14px">POMIARY&#160;&#160;i</text>
<text class="big red" transform="translate(1229,209) rotate(-90)" style="font-size:14px">REJESTRACJA</text></g>
</svg>
